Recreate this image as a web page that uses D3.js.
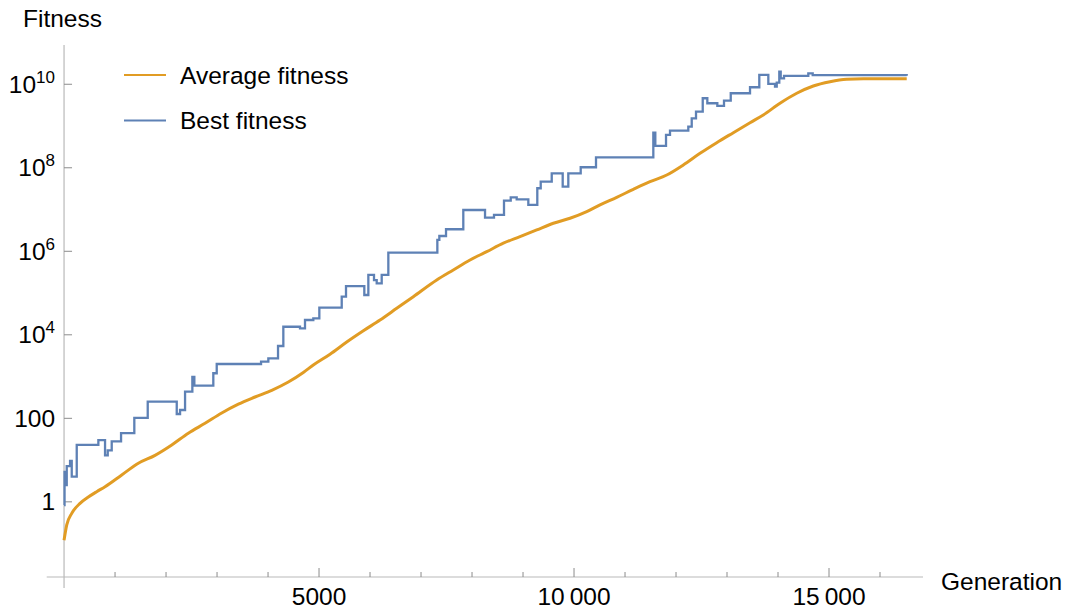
<!DOCTYPE html>
<html>
<head>
<meta charset="utf-8">
<script src="https://cdn.jsdelivr.net/npm/d3@7"></script>
<style>
  html, body { margin: 0; padding: 0; background: #fff; }
  svg { display: block; font-family: "Liberation Sans", Arial, sans-serif; }
</style>
</head>
<body>
<svg id="chart" width="1070" height="610"></svg>
<script>
// ---- data ----
const avgGeneration = [0, 53, 151, 314, 476, 641, 804, 1131, 1457, 1784, 2112, 2437, 2765, 3092, 3418, 3745, 4073, 4398, 4692, 4888, 5216, 5543, 5869, 6196, 6524, 6849, 7308, 7633, 7961, 8288, 8614, 8941, 9269, 9594, 9922, 10249, 10510, 10837, 11163, 11490, 11818, 12143, 12471, 12798, 13124, 13451, 13712, 14039, 14367, 14692, 15020, 15347, 15673, 16524];
const avgFitness = [0.12, 0.28, 0.53, 0.92, 1.3, 1.75, 2.3, 4.4, 8.4, 13, 23, 44, 76, 134, 218, 324, 469, 741, 1256, 1890, 3430, 6720, 12500, 22600, 43100, 81800, 205000, 357000, 619000, 977000, 1.56e6, 2.24e6, 3.24e6, 4.69e6, 6.17e6, 8.89e6, 1.29e7, 1.96e7, 3.05e7, 4.65e7, 6.72e7, 1.17e8, 2.22e8, 3.99e8, 6.93e8, 1.20e9, 1.84e9, 3.51e9, 6.09e9, 9.1e9, 1.15e10, 1.32e10, 1.36e10, 1.36e10];

const bestGeneration = [0, 10, 39, 53, 118, 151, 249, 673, 804, 857, 935, 1118, 1378, 1641, 2210, 2275, 2373, 2516, 2555, 2927, 2994, 3863, 4006, 4196, 4300, 4627, 4725, 4888, 5006, 5445, 5529, 5888, 5967, 6078, 6131, 6229, 6359, 7320, 7359, 7490, 7829, 8255, 8431, 8627, 8759, 8876, 9104, 9280, 9347, 9563, 9778, 9888, 10131, 10431, 11555, 11594, 11804, 11882, 12241, 12308, 12392, 12524, 12614, 12810, 12941, 13073, 13451, 13633, 13810, 13941, 13975, 14025, 14053, 14118, 14594, 14680, 16524];
const bestFitness = [0.84, 5.2, 2.5, 7.2, 9.6, 4.0, 23, 30, 13, 17, 28, 44, 103, 250, 127, 158, 434, 975, 604, 1200, 2000, 2270, 2740, 5390, 15600, 14300, 22600, 24800, 44600, 81800, 147000, 89800, 271000, 205000, 171000, 271000, 925000, 1.87e6, 2.32e6, 3.37e6, 9.75e6, 6.38e6, 7.41e6, 1.63e7, 1.96e7, 1.76e7, 1.29e7, 3.23e7, 4.65e7, 7.38e7, 3.53e7, 7.38e7, 1.03e8, 1.78e8, 6.93e8, 3.33e8, 6.11e8, 7.74e8, 9.66e8, 1.53e9, 2.21e9, 4.62e9, 3.51e9, 3.02e9, 4.05e9, 6.09e9, 8.47e9, 1.67e10, 1.02e10, 8.77e9, 1.09e10, 2.0e10, 1.39e10, 1.58e10, 1.83e10, 1.65e10, 1.6e10];

const xMajorTicks = [5000, 10000, 15000];
const xMinorTicks = [1000, 2000, 3000, 4000, 6000, 7000, 8000, 9000, 11000, 12000, 13000, 14000, 16000];
const yTickExponents = [0, 2, 4, 6, 8, 10];
const seriesNames = ["Average fitness", "Best fitness"];
const seriesColors = ["#E19C24", "#5E81B5"];

// ---- chart ----
const svg = d3.select("#chart");
const x = d3.scaleLinear().domain([-340, 16843]).range([46.7, 923]);
const y = d3.scaleLog().domain([Math.pow(10, -1.8), Math.pow(10, 10.94)]).range([577, 45]);

const axisColor = "#b9b9b9";
const tickColor = "#8c8c8c";
const fontSize = 24.5;

// x axis line
svg.append("line")
  .attr("x1", x.range()[0]).attr("x2", x.range()[1])
  .attr("y1", y.range()[0]).attr("y2", y.range()[0])
  .attr("stroke", axisColor).attr("stroke-width", 1.2);
// y axis line
svg.append("line")
  .attr("x1", x(0)).attr("x2", x(0))
  .attr("y1", y.range()[1]).attr("y2", y.range()[0] + 11)
  .attr("stroke", axisColor).attr("stroke-width", 1.2);

// x ticks
const xAxisY = y.range()[0];
svg.append("g").selectAll("line.minor").data(xMinorTicks).join("line")
  .attr("x1", d => x(d)).attr("x2", d => x(d))
  .attr("y1", xAxisY).attr("y2", xAxisY - 5)
  .attr("stroke", tickColor).attr("stroke-width", 1);
svg.append("g").selectAll("line.major").data(xMajorTicks).join("line")
  .attr("x1", d => x(d)).attr("x2", d => x(d))
  .attr("y1", xAxisY).attr("y2", xAxisY - 9)
  .attr("stroke", tickColor).attr("stroke-width", 1);
svg.append("g").selectAll("text").data(xMajorTicks).join("text")
  .attr("x", d => x(d)).attr("y", xAxisY + 28)
  .attr("text-anchor", "middle")
  .attr("font-size", fontSize).attr("fill", "#000")
  .text(d => d >= 10000 ? d3.format(",")(d).replace(",", "\u2009") : String(d));

// y ticks
const yAxisX = x(0);
svg.append("g").selectAll("line").data(yTickExponents).join("line")
  .attr("x1", yAxisX).attr("x2", yAxisX + 8)
  .attr("y1", d => y(Math.pow(10, d))).attr("y2", d => y(Math.pow(10, d)))
  .attr("stroke", tickColor).attr("stroke-width", 1);
const yLabels = svg.append("g").selectAll("text").data(yTickExponents).join("text")
  .attr("x", yAxisX - 9).attr("y", d => y(Math.pow(10, d)) + 8.5)
  .attr("text-anchor", "end")
  .attr("font-size", fontSize).attr("fill", "#000");
yLabels.each(function(d) {
  const t = d3.select(this);
  if (d === 0) t.text("1");
  else if (d === 2) t.text("100");
  else {
    t.append("tspan").text("10");
    t.append("tspan").attr("dy", -10).attr("font-size", 17).text(String(d));
  }
});

// axis labels
svg.append("text").attr("x", 23).attr("y", 27)
  .attr("font-size", fontSize).attr("fill", "#000").text("Fitness");
svg.append("text").attr("x", 941).attr("y", 590)
  .attr("font-size", fontSize).attr("fill", "#000").text("Generation");

// series
const avgData = avgGeneration.map((g, i) => [g, avgFitness[i]]);
const bestData = bestGeneration.map((g, i) => [g, bestFitness[i]]);

const avgLine = d3.line().x(d => x(d[0])).y(d => y(d[1])).curve(d3.curveMonotoneX);
const bestLine = d3.line().x(d => x(d[0])).y(d => y(d[1])).curve(d3.curveStepAfter);

svg.append("path").datum(avgData)
  .attr("d", avgLine).attr("fill", "none")
  .attr("stroke", seriesColors[0]).attr("stroke-width", 3)
  .attr("stroke-linejoin", "round");
svg.append("path").datum(bestData)
  .attr("d", bestLine).attr("fill", "none")
  .attr("stroke", seriesColors[1]).attr("stroke-width", 2.3)
  .attr("stroke-linejoin", "miter");

// legend
const legend = svg.append("g");
seriesNames.forEach((name, i) => {
  const ly = 75 + i * 45.5;
  legend.append("line").attr("x1", 124).attr("x2", 166)
    .attr("y1", ly).attr("y2", ly)
    .attr("stroke", seriesColors[i]).attr("stroke-width", 2);
  legend.append("text").attr("x", 180).attr("y", ly + 8.5)
    .attr("font-size", fontSize).attr("fill", "#000").text(name);
});
</script>
</body>
</html>
